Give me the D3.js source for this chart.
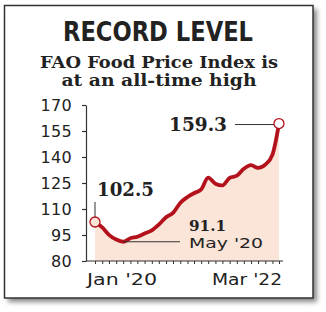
<!DOCTYPE html>
<html><head><meta charset="utf-8">
<script src="https://cdn.jsdelivr.net/npm/d3@7/dist/d3.min.js"></script>
<style>
html,body{margin:0;padding:0;background:#fff;}
svg{display:block;}
</style></head>
<body>
<svg id="c" width="326" height="312"></svg>
<script>
const months = ["2020-01","2020-02","2020-03","2020-04","2020-05","2020-06","2020-07","2020-08","2020-09","2020-10","2020-11","2020-12",
  "2021-01","2021-02","2021-03","2021-04","2021-05","2021-06","2021-07","2021-08","2021-09","2021-10","2021-11","2021-12",
  "2022-01","2022-02","2022-03"];
const values = [102.5,99.4,95.1,92.4,91.1,93.1,94.0,95.9,97.7,101.0,105.2,107.8,
  113.5,116.9,119.1,121.3,128.1,124.6,123.6,128.0,129.2,133.2,135.3,133.7,
  135.6,141.4,159.3];
const yTicks = [80,95,110,125,140,155,170];
const xLabels = ["Jan '20","Mar '22"];
const title = "RECORD LEVEL";
const subtitle = ["FAO Food Price Index is","at an all-time high"];
const callouts = [
  {idx:0, label:"102.5"},
  {idx:4, label:"91.1", sub:"May '20"},
  {idx:26, label:"159.3"}
];

const parse = d3.timeParse("%Y-%m");
const data = months.map((m,i)=>({date:parse(m), value:values[i]}));

const svg = d3.select("#c");
const red = "#b3121c", ink = "#222";

// frame with shadow
const defs = svg.append("defs");
const f = defs.append("filter").attr("id","sh").attr("x","-10%").attr("y","-10%").attr("width","130%").attr("height","130%");
f.append("feGaussianBlur").attr("stdDeviation",2.5);
svg.append("rect").attr("x",8).attr("y",9).attr("width",309).attr("height",293)
  .attr("fill","#888").attr("filter","url(#sh)");
svg.append("rect").attr("x",4.5).attr("y",5.5).attr("width",308.5).attr("height",292.5)
  .attr("fill","#fff").attr("stroke","#333").attr("stroke-width",1.5);

// titles
svg.append("text").attr("x",158).attr("y",41).attr("text-anchor","middle")
  .attr("font-family","'DejaVu Sans Condensed','DejaVu Sans',sans-serif").attr("font-weight","bold")
  .attr("font-size",26).attr("fill",ink)
  .attr("textLength",190).attr("lengthAdjust","spacingAndGlyphs").text(title);
const subW = [238,195], subY = [68,86];
subtitle.forEach((s,i)=>{
  svg.append("text").attr("x",159).attr("y",subY[i]).attr("text-anchor","middle")
    .attr("font-family","'DejaVu Serif',serif").attr("font-weight","bold")
    .attr("font-size",17).attr("fill",ink)
    .attr("textLength",subW[i]).attr("lengthAdjust","spacingAndGlyphs").text(s);
});

// scales
const x = d3.scaleTime().domain([data[0].date, data[data.length-1].date]).range([95,279]);
const y = d3.scaleLinear().domain([80,170]).range([261,105]);

// area
const area = d3.area().x(d=>x(d.date)).y0(y(80)).y1(d=>y(d.value)).curve(d3.curveMonotoneX);
svg.append("path").datum(data).attr("d",area).attr("fill","#fbe4d8");

// y axis
const yAxis = d3.axisLeft(y).tickValues(yTicks).tickSize(4).tickSizeOuter(0).tickPadding(10);
const gy = svg.append("g").attr("transform","translate(86,0)").call(yAxis);
gy.select(".domain").attr("stroke","#333").attr("stroke-width",1.2);
gy.selectAll(".tick line").attr("stroke","#333").attr("stroke-width",1.2);
gy.selectAll(".tick text").attr("font-family","'DejaVu Sans',sans-serif").attr("font-size",16)
  .attr("fill",ink).attr("letter-spacing","0.3px");

// x axis
const xAxis = d3.axisBottom(x).ticks(d3.timeMonth.every(1)).tickSize(3).tickSizeOuter(0).tickFormat("");
const gx = svg.append("g").attr("transform","translate(0,261)").call(xAxis);
gx.select(".domain").remove();
gx.selectAll(".tick line").attr("stroke","#333").attr("stroke-width",1);
svg.append("line").attr("x1",86).attr("x2",283).attr("y1",261).attr("y2",261).attr("stroke","#333").attr("stroke-width",1.2);
svg.append("text").attr("x",x(data[0].date)-8).attr("y",285).attr("font-family","'DejaVu Sans',sans-serif")
  .attr("font-size",16).attr("fill",ink).attr("textLength",70).attr("lengthAdjust","spacingAndGlyphs").text(xLabels[0]);
svg.append("text").attr("x",x(data[data.length-1].date)+3).attr("y",285).attr("text-anchor","end").attr("font-family","'DejaVu Sans',sans-serif")
  .attr("font-size",16).attr("fill",ink).attr("textLength",70).attr("lengthAdjust","spacingAndGlyphs").text(xLabels[1]);

// line
const line = d3.line().x(d=>x(d.date)).y(d=>y(d.value)).curve(d3.curveMonotoneX);
svg.append("path").datum(data).attr("d",line).attr("fill","none").attr("stroke",red).attr("stroke-width",3.8)
  .attr("stroke-linejoin","round");

// callouts
const serif = "'DejaVu Serif',serif";
// 102.5
{
  const d = data[callouts[0].idx];
  const cx = x(d.date), cy = y(d.value);
  svg.append("line").attr("x1",cx).attr("x2",cx).attr("y1",202).attr("y2",cy).attr("stroke","#333").attr("stroke-width",1);
  svg.append("text").attr("x",cx+2).attr("y",196).attr("font-family",serif).attr("font-weight","bold")
    .attr("font-size",18).attr("fill",ink).attr("textLength",57).attr("lengthAdjust","spacingAndGlyphs").text(callouts[0].label);
  svg.append("circle").attr("cx",cx).attr("cy",cy).attr("r",5).attr("fill","#fbe4d8").attr("stroke",red).attr("stroke-width",1.3);
}
// 91.1 May '20
{
  const d = data[callouts[1].idx];
  const cx = x(d.date), cy = y(d.value);
  svg.append("line").attr("x1",cx).attr("x2",180).attr("y1",cy).attr("y2",cy).attr("stroke","#333").attr("stroke-width",1);
  svg.append("text").attr("x",189).attr("y",231).attr("font-family",serif).attr("font-weight","bold")
    .attr("font-size",15).attr("fill",ink).attr("textLength",37).attr("lengthAdjust","spacingAndGlyphs").text(callouts[1].label);
  svg.append("text").attr("x",189).attr("y",248).attr("font-family","'DejaVu Sans',sans-serif")
    .attr("font-size",14.5).attr("fill",ink).attr("textLength",74).attr("lengthAdjust","spacingAndGlyphs").text(callouts[1].sub);
}
// 159.3
{
  const d = data[callouts[2].idx];
  const cx = x(d.date), cy = y(d.value);
  svg.append("line").attr("x1",235).attr("x2",cx-5).attr("y1",cy+1).attr("y2",cy+1).attr("stroke","#333").attr("stroke-width",1);
  svg.append("text").attr("x",169).attr("y",131).attr("font-family",serif).attr("font-weight","bold")
    .attr("font-size",18).attr("fill",ink).attr("textLength",58).attr("lengthAdjust","spacingAndGlyphs").text(callouts[2].label);
  svg.append("circle").attr("cx",cx).attr("cy",cy).attr("r",5).attr("fill","#fff").attr("stroke",red).attr("stroke-width",1.3);
}
</script>
</body></html>
